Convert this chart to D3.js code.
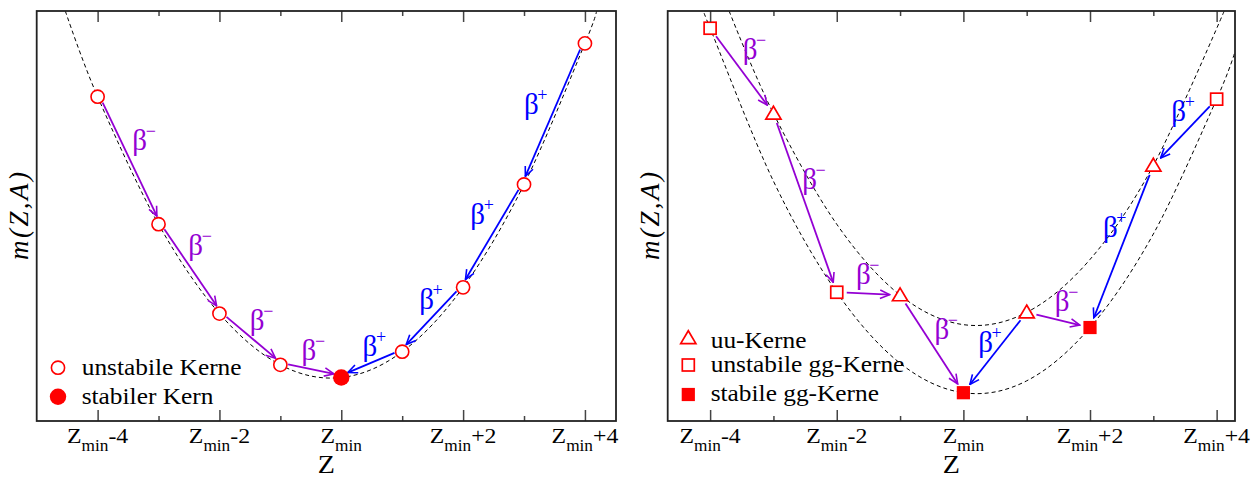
<!DOCTYPE html>
<html><head><meta charset="utf-8">
<script src="https://cdn.jsdelivr.net/npm/d3@7"></script>
<style>body{margin:0;background:#fff} svg{display:block}</style>
</head><body><svg id="c" width="1251" height="480"></svg>
<script>
// ---------- data ----------
const zMajor = [-4,-2,0,2,4];
const zMinor = [-3,-1,1,3];
const zTickSuffix = ["-4","-2","","+2","+4"];

// left panel: one parabola
const leftZ = [-4,-3,-2,-1,0,1,2,3,4];
const leftMass = [79.1,48.0,26.2,13.7,10.6,16.9,32.6,57.7,92.1];
const leftStable = [false,false,false,false,true,false,false,false,false];
const leftCurveZ = [-4.53,-4,-3,-2,-1,0,1,2,3,4,4.19];
const leftCurveM = [100,79.1,48.0,26.2,13.7,10.6,16.9,32.6,57.7,92.1,100];
const leftDecayFrom = [0,1,2,3,8,7,6,5];
const leftDecayTo   = [1,2,3,4,7,6,5,4];
const leftDecayType = ["-","-","-","-","+","+","+","+"];
const leftLabelZ = [-3.31,-2.39,-1.38,-0.53,3.12,2.24,1.40,0.47];
const leftLabelM = [67.8,42.2,23.9,16.6,76.7,49.8,29.0,17.6];
const leftLegend = ["unstabile Kerne","stabiler Kern"];

// right panel: gg and uu parabolas
const rightZ = [-4,-3,-2,-1,0,1,2,3,4];
const rightMass = [95.8,75.0,31.4,30.7,6.9,26.5,22.8,62.3,78.5];
const rightKind = ["gg","uu","gg","uu","ggs","uu","ggs","uu","gg"];
const ggCurveZ = [-4.10,-4,-3,-2,-1,0,1,2,3,4,4.29];
const ggCurveM = [100,95.8,58.5,31.4,14.1,6.9,9.8,22.8,45.6,78.5,90.1];
const uuCurveZ = [-3.70,-3,-2,-1,0,1,2,3,4.12];
const uuCurveM = [100,75.0,48.0,30.7,23.5,26.5,39.4,62.3,100];
const rightDecayFrom = [0,1,2,3,5,5,7,8];
const rightDecayTo   = [1,2,3,4,4,6,6,7];
const rightDecayType = ["-","-","-","-","+","-","+","+"];
const rightLabelZ = [-3.37,-2.43,-1.58,-0.34,0.35,1.56,2.32,3.40];
const rightLabelM = [90.1,58.4,35.2,21.6,18.5,28.5,46.6,75.0];
const rightLegend = ["uu-Kerne","unstabile gg-Kerne","stabile gg-Kerne"];

// ---------- drawing ----------
const svg = d3.select("#c");
const FONT = "Liberation Serif, Times New Roman, serif";
const PURPLE = "#9400d3", BLUE = "#0000ff", RED = "#ff0000";
const yTop = 11, yBot = 421;
const SX = 1.08;

const defs = svg.append("defs");
[["ahP",PURPLE],["ahB",BLUE]].forEach(([id,col])=>{
  defs.append("marker").attr("id",id).attr("viewBox","-11 -6 12 12")
    .attr("refX",0).attr("refY",0).attr("markerWidth",12).attr("markerHeight",12)
    .attr("markerUnits","userSpaceOnUse").attr("orient","auto")
    .append("path").attr("d","M-9.5,-4.2 L0,0 L-9.5,4.2")
    .attr("fill","none").attr("stroke",col).attr("stroke-width",1.6);
});

function sText(g, x, y, anchor, size){
  return g.append("text").attr("transform",`translate(${x},${y}) scale(${SX},1)`)
    .attr("text-anchor",anchor).attr("font-family",FONT).attr("font-size",size).attr("fill","#000");
}

function panel(cfg){
  const x = d3.scaleLinear().domain(cfg.dom).range([cfg.x0,cfg.x1]);
  const y = d3.scaleLinear().domain([0,100]).range([yBot,yTop]);
  const g = svg.append("g");
  const clipId = "clip"+cfg.id;
  defs.append("clipPath").attr("id",clipId).append("rect")
    .attr("x",cfg.x0).attr("y",yTop).attr("width",cfg.x1-cfg.x0).attr("height",yBot-yTop);

  const line = d3.line().x(d=>x(d[0])).y(d=>y(d[1])).curve(d3.curveCatmullRom.alpha(0));
  cfg.curves.forEach(c=>{
    g.append("path").attr("clip-path",`url(#${clipId})`).attr("d",line(d3.zip(c[0],c[1])))
      .attr("fill","none").attr("stroke","#000").attr("stroke-width",1).attr("stroke-dasharray","4,3");
  });

  cfg.from.forEach((fi,k)=>{
    const ti = cfg.to[k];
    const x1=x(cfg.z[fi]), y1=y(cfg.m[fi]), x2=x(cfg.z[ti]), y2=y(cfg.m[ti]);
    const L=Math.hypot(x2-x1,y2-y1), dx=(x2-x1)/L, dy=(y2-y1)/L;
    let px=dy, py=-dx; if(py>0){px=-px;py=-py;}
    const o=cfg.perp;
    const col = cfg.type[k]==="-"?PURPLE:BLUE;
    g.append("line")
      .attr("x1",x1+dx*cfg.gap0+px*o).attr("y1",y1+dy*cfg.gap0+py*o)
      .attr("x2",x2-dx*cfg.gap1+px*o).attr("y2",y2-dy*cfg.gap1+py*o)
      .attr("stroke",col).attr("stroke-width",1.8)
      .attr("marker-end",`url(#${cfg.type[k]==="-"?"ahP":"ahB"})`);
  });

  cfg.lz.forEach((lz,k)=>{
    const cx=x(lz), cy=y(cfg.lm[k]);
    const col = cfg.type[k]==="-"?PURPLE:BLUE;
    g.append("text").attr("x",cx).attr("y",cy+7).attr("text-anchor","middle")
      .attr("font-family",FONT).attr("font-size",29).attr("fill",col).text("β");
    g.append("text").attr("x",cx+6).attr("y",cy-6)
      .attr("font-family",FONT).attr("font-size",18).attr("fill",col)
      .text(cfg.type[k]==="-"?"−":"+");
  });

  cfg.z.forEach((zz,i)=>cfg.drawMarker(g, x(zz), y(cfg.m[i]), cfg.kind[i]));

  cfg.legend.forEach((t,i)=>{
    cfg.drawMarker(g, cfg.legX, cfg.legMY[i], cfg.legKind[i]);
    sText(g, cfg.legTX, cfg.legTY[i], "start", 23.5).text(t);
  });

  const tickStyle = s => { s.select(".domain").remove(); s.selectAll("text").remove();
    s.selectAll("line").attr("stroke","#444").attr("stroke-width",1.5); };
  g.append("g").attr("transform",`translate(0,${yBot})`)
    .call(d3.axisBottom(x).tickValues(zMajor).tickSize(-11)).call(tickStyle);
  g.append("g").attr("transform",`translate(0,${yBot})`)
    .call(d3.axisBottom(x).tickValues(zMinor).tickSize(-5)).call(tickStyle);
  g.append("g").attr("transform",`translate(0,${yTop})`)
    .call(d3.axisTop(x).tickValues(zMajor).tickSize(-11)).call(tickStyle);
  g.append("g").attr("transform",`translate(0,${yTop})`)
    .call(d3.axisTop(x).tickValues(zMinor).tickSize(-5)).call(tickStyle);

  g.append("rect").attr("x",cfg.x0).attr("y",yTop).attr("width",cfg.x1-cfg.x0).attr("height",yBot-yTop)
    .attr("fill","none").attr("stroke","#222").attr("stroke-width",1.8);

  zMajor.forEach((v,i)=>{
    const t = sText(g, x(v), 443, "middle", 22);
    t.append("tspan").text("Z");
    t.append("tspan").attr("font-size",16).attr("dy",7.5).text("min");
    if(zTickSuffix[i]) t.append("tspan").attr("dy",-7.5).text(zTickSuffix[i]);
  });

  sText(g, (cfg.x0+cfg.x1)/2, 473, "middle", 26).text("Z");
  g.append("text").attr("transform",`translate(${cfg.x0-9},216) rotate(-90)`)
    .attr("text-anchor","middle").attr("font-family",FONT).attr("font-size",27)
    .attr("font-style","italic").attr("textLength",88).attr("lengthAdjust","spacing")
    .text("m(Z,A)");
}

function leftMarker(g, cx, cy, stable){
  if(stable) g.append("circle").attr("cx",cx).attr("cy",cy).attr("r",8.2).attr("fill",RED);
  else g.append("circle").attr("cx",cx).attr("cy",cy).attr("r",6.6).attr("fill","#fff")
        .attr("stroke",RED).attr("stroke-width",1.6);
}
function rightMarker(g, cx, cy, kind){
  if(kind==="uu") g.append("path").attr("d",`M${cx},${cy-7.3} L${cx+7.6},${cy+5.6} L${cx-7.6},${cy+5.6} Z`)
      .attr("fill","#fff").attr("stroke",RED).attr("stroke-width",1.7);
  else if(kind==="gg") g.append("rect").attr("x",cx-6).attr("y",cy-6).attr("width",12).attr("height",12)
      .attr("fill","#fff").attr("stroke",RED).attr("stroke-width",1.7);
  else g.append("rect").attr("x",cx-6.6).attr("y",cy-6.6).attr("width",13.2).attr("height",13.2).attr("fill",RED);
}

panel({id:"L", x0:36.7, x1:616, dom:[-5.0,4.51],
  z:leftZ, m:leftMass, kind:leftStable,
  curves:[[leftCurveZ,leftCurveM]],
  from:leftDecayFrom, to:leftDecayTo, type:leftDecayType,
  lz:leftLabelZ, lm:leftLabelM, gap0:7.5, gap1:8, perp:2,
  drawMarker:leftMarker,
  legend:leftLegend, legKind:[false,true], legX:58, legMY:[367.7,396.7], legTX:81.7, legTY:[374.5,403.5]
});
panel({id:"R", x0:667.7, x1:1235, dom:[-4.67,4.29],
  z:rightZ, m:rightMass, kind:rightKind,
  curves:[[ggCurveZ,ggCurveM],[uuCurveZ,uuCurveM]],
  from:rightDecayFrom, to:rightDecayTo, type:rightDecayType,
  lz:rightLabelZ, lm:rightLabelM, gap0:10, gap1:10.5, perp:0,
  drawMarker:rightMarker,
  legend:rightLegend, legKind:["uu","gg","ggs"], legX:688.3, legMY:[338,365,394.5], legTX:710.7, legTY:[347.5,371.5,400.5]
});
</script>
</body></html>
